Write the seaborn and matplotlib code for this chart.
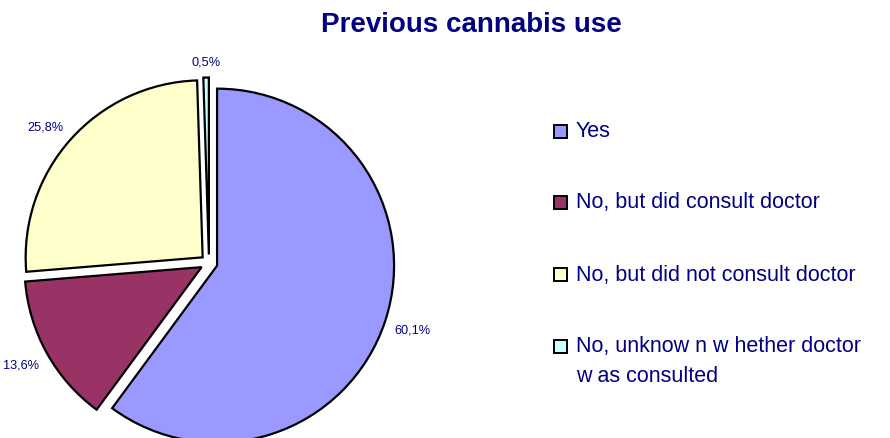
import matplotlib
matplotlib.use("Agg")
import numpy as np
import matplotlib.pyplot as plt
from matplotlib.patches import Rectangle
import seaborn as sns

categories = ["Yes", "No, but did consult doctor", "No, but did not consult doctor",
              "No, unknow n w hether doctor\nw as consulted"]
values = [60.1, 13.6, 25.8, 0.5]
colors = ["#9999FF", "#993366", "#FFFFCC", "#CCFFFF"]
title = "Previous cannabis use"

sns.set_theme(style="white")
plt.rcParams["font.family"] = ["Liberation Sans", "DejaVu Sans"]

W, H = 890, 439
fig = plt.figure(figsize=(W / 100, H / 100), dpi=100)
fig.patch.set_facecolor("white")
ax = fig.add_axes([0, 0, 1, 1])
R = 177.0
cx, cy = 209.0, 264.0

navy = "#000080"
wedges, texts, autotexts = ax.pie(
    values, colors=colors, startangle=90, counterclock=False,
    explode=[0.048] * len(values), radius=1.0, center=(0, 0),
    autopct=lambda p: f"{p:.1f}%".replace(".", ","), pctdistance=1.16,
    wedgeprops=dict(edgecolor="black", linewidth=1.6),
    textprops=dict(color=navy, fontsize=9.2), frame=True,
)
ax.set_xlim(-cx / R, (W - cx) / R)
ax.set_ylim(-(H - cy) / R, cy / R)
ax.set_aspect("auto")
ax.set_axis_off()

# Excel-like label placement: text box anchored just outside the wedge
for w, t in zip(wedges, autotexts):
    th = np.deg2rad((w.theta1 + w.theta2) / 2)
    c, s = np.cos(th), np.sin(th)
    x0, y0 = w.center
    t.set_position((x0 + 1.055 * c, y0 + 1.055 * s))
    t.set_ha("left" if c > 0.3 else ("right" if c < -0.3 else "center"))
    t.set_va("bottom" if s > 0.3 else ("top" if s < -0.3 else "center"))

fig.text(471 / W, 1 - 25 / H, title, ha="center", va="center",
         fontsize=20, fontweight="bold", color=navy)

rows_y = [132, 203, 275, 347]
for lab, col, y in zip(categories, colors, rows_y):
    fig.patches.append(Rectangle(((560 - 6.5) / W, 1 - (y + 6.5) / H), 13 / W, 13 / H,
                                 transform=fig.transFigure, facecolor=col,
                                 edgecolor="black", linewidth=1.4))
    for k, line in enumerate(lab.split("\n")):
        fig.text(576 / W, 1 - (y + 30 * k) / H, line, ha="left", va="center",
                 fontsize=15.5, color=navy)

fig.savefig("out.png", dpi=100, facecolor="white")
